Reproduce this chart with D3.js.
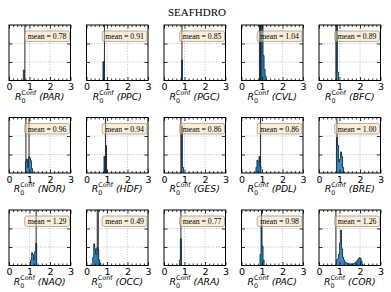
<!DOCTYPE html>
<html>
<head>
<meta charset="utf-8">
<script src="https://cdn.jsdelivr.net/npm/d3@7/dist/d3.min.js"></script>
<style>
  body { margin: 0; background: #fff; }
  text { font-family: "DejaVu Sans", sans-serif; }
</style>
</head>
<body>
<svg id="chart" width="391" height="292"></svg>
<script>
const title = 'SEAFHDRO';
const regions = ['PAR', 'PPC', 'PGC', 'CVL', 'BFC', 'NOR', 'HDF', 'GES', 'PDL', 'BRE', 'NAQ', 'OCC', 'ARA', 'PAC', 'COR'];
const means = ['0.78', '0.91', '0.85', '1.04', '0.89', '0.96', '0.94', '0.86', '0.86', '1.00', '1.29', '0.49', '0.77', '0.98', '1.26'];
const xTicks = [0, 1, 2, 3];
const yTicks = [1 / 3, 2 / 3];
const binW = 0.05;

// blue histogram per region: [bin start, height as share of the y range]
const blueBins = [
  [[0.70, 0.19]],
  [[0.80, 0.34]],
  [[0.85, 0.37]],
  [[0.95, 1.2], [1.00, 1.2], [1.05, 0.45], [1.10, 0.2], [1.15, 0.08]],
  [[0.85, 1.2], [0.90, 0.15]],
  [[0.80, 0.2], [0.85, 0.25], [0.90, 0.1], [0.95, 0.29], [1.00, 0.27], [1.05, 0.22], [1.10, 0.08]],
  [[0.85, 0.3]],
  [[0.85, 0.85], [0.90, 0.1]],
  [[0.70, 0.1], [0.75, 0.23], [0.80, 0.2], [0.85, 0.3], [0.90, 0.12]],
  [[0.85, 0.64], [0.90, 0.5], [0.95, 0.2], [1.00, 0.25], [1.05, 0.38], [1.10, 0.3], [1.15, 0.1]],
  [[1.05, 0.1], [1.10, 0.23], [1.15, 0.2], [1.20, 0.1], [1.25, 0.25], [1.30, 0.4]],
  [[0.30, 0.15], [0.35, 0.39], [0.40, 0.3], [0.45, 0.2], [0.50, 0.32], [0.55, 0.28], [0.60, 0.1], [0.65, 0.04]],
  [[0.75, 0.1], [0.80, 0.48]],
  [[0.90, 0.2], [0.95, 0.73], [1.00, 0.35], [1.05, 0.1]],
  [[0.85, 0.1], [0.90, 0.12], [0.95, 0.2], [1.00, 0.4], [1.05, 0.64], [1.10, 0.3], [1.15, 0.15], [1.20, 0.1],
   [1.25, 0.06], [1.30, 0.05], [1.35, 0.04], [1.40, 0.04], [1.45, 0.03], [1.50, 0.03], [1.55, 0.03],
   [1.60, 0.03], [1.65, 0.03], [1.70, 0.04], [1.75, 0.05], [1.80, 0.07], [1.85, 0.09], [1.90, 0.12],
   [1.95, 0.14], [2.00, 0.13], [2.05, 0.08], [2.10, 0.02]]
];

// dark narrow histogram drawn behind the blue one
const darkBins = [
  [[0.75, 1.2]],
  [[0.85, 1.2]],
  [[0.85, 1.2]],
  [[0.85, 1.2], [0.90, 1.2]],
  [[0.80, 1.2]],
  [[0.80, 1.2], [0.95, 1.2]],
  [[0.90, 1.2], [0.95, 0.5]],
  [[0.80, 1.2]],
  [[0.90, 1.2]],
  [[0.85, 1.2]],
  [[1.30, 1.2]],
  [[0.50, 1.2], [0.55, 1.2]],
  [[0.80, 1.2]],
  [[0.95, 1.2]],
  [[0.80, 1.2]]
];

const left0 = 9, colStep = 77.5, top0 = 25, rowStep = 92.5;
const pw = 61.5, ph = 55.5;

const svg = d3.select('#chart');
svg.append('rect').attr('width', 391).attr('height', 292).attr('fill', '#fff');

svg.append('text')
  .attr('x', 197).attr('y', 16)
  .attr('text-anchor', 'middle')
  .style('font-family', '"Liberation Serif", serif')
  .style('font-size', '11px')
  .text(title);

const x = d3.scaleLinear().domain([0, 3]).range([0, pw]);
const y = d3.scaleLinear().domain([0, 1]).range([ph, 0]);
const minorTicks = d3.range(0, 3.01, 0.2).filter(v => Math.abs(v - Math.round(v)) > 0.01);

// step outline around a run of bins
function stepPoints(bins) {
  const pts = [[bins[0][0], 0]];
  bins.forEach(b => { pts.push([b[0], b[1]]); pts.push([b[0] + binW, b[1]]); });
  pts.push([bins[bins.length - 1][0] + binW, 0]);
  return pts;
}
const line = d3.line().x(d => x(d[0])).y(d => y(d[1]));

regions.forEach((name, i) => {
  const col = i % 5, row = Math.floor(i / 5);
  const g = svg.append('g')
    .attr('transform', `translate(${left0 + col * colStep},${top0 + row * rowStep})`);

  g.append('clipPath').attr('id', 'clip' + i)
    .append('rect').attr('width', pw).attr('height', ph);

  // dotted grid
  g.selectAll('.gx').data([1, 2]).enter().append('line')
    .attr('x1', d => x(d)).attr('x2', d => x(d))
    .attr('y1', 0).attr('y2', ph)
    .attr('stroke', '#b0b0b0').attr('stroke-width', 0.8).attr('stroke-dasharray', '1,1.6');
  g.selectAll('.gy').data(yTicks).enter().append('line')
    .attr('x1', 0).attr('x2', pw)
    .attr('y1', d => y(d)).attr('y2', d => y(d))
    .attr('stroke', '#b0b0b0').attr('stroke-width', 0.8).attr('stroke-dasharray', '1,1.6');

  const plot = g.append('g').attr('clip-path', `url(#clip${i})`);
  plot.selectAll('.dark').data(darkBins[i]).enter().append('rect')
    .attr('x', d => x(d[0])).attr('width', x(binW))
    .attr('y', d => y(d[1])).attr('height', d => ph - y(d[1]))
    .attr('fill', '#2e2e2e');
  plot.selectAll('.blue').data(blueBins[i]).enter().append('rect')
    .attr('x', d => x(d[0])).attr('width', x(binW) + 0.2)
    .attr('y', d => y(d[1])).attr('height', d => ph - y(d[1]))
    .attr('fill', '#1f77b4');
  plot.append('path')
    .attr('d', line(stepPoints(blueBins[i])))
    .attr('fill', 'none').attr('stroke', '#000').attr('stroke-width', 0.6);

  // ticks, all pointing inward
  const axB = g.append('g').attr('transform', `translate(0,${ph})`)
    .call(d3.axisBottom(x).tickValues(xTicks).tickSizeInner(-3.5).tickSizeOuter(0).tickPadding(3).tickFormat(d3.format('d')));
  g.append('g').attr('transform', `translate(0,${ph})`)
    .call(d3.axisBottom(x).tickValues(minorTicks).tickSizeInner(-2).tickSizeOuter(0).tickFormat(''));
  g.append('g')
    .call(d3.axisTop(x).tickValues(xTicks).tickSizeInner(-3.5).tickSizeOuter(0).tickFormat(''));
  g.append('g')
    .call(d3.axisTop(x).tickValues(minorTicks).tickSizeInner(-2).tickSizeOuter(0).tickFormat(''));
  g.append('g')
    .call(d3.axisLeft(y).tickValues(yTicks).tickSizeInner(-3.5).tickSizeOuter(0).tickFormat(''));
  g.append('g').attr('transform', `translate(${pw},0)`)
    .call(d3.axisRight(y).tickValues(yTicks).tickSizeInner(-3.5).tickSizeOuter(0).tickFormat(''));
  g.selectAll('.domain').remove();
  g.selectAll('.tick line').attr('stroke', '#000').attr('stroke-width', 0.8);
  axB.selectAll('text').style('font-size', '9.5px').attr('fill', '#000');

  g.append('rect').attr('width', pw).attr('height', ph)
    .attr('fill', 'none').attr('stroke', '#000').attr('stroke-width', 1);

  // mean box
  const box = g.append('g');
  const t = box.append('text')
    .attr('x', pw - 4).attr('y', 14)
    .attr('text-anchor', 'end')
    .style('font-family', '"Liberation Serif", serif')
    .style('font-size', '7.8px')
    .text('mean = ' + means[i]);
  const tw = t.node().getComputedTextLength();
  box.insert('rect', 'text')
    .attr('x', pw - 4 - tw - 3).attr('y', 6)
    .attr('width', tw + 6).attr('height', 10.5)
    .attr('rx', 2)
    .attr('fill', 'wheat').attr('fill-opacity', 0.5)
    .attr('stroke', '#8c8273').attr('stroke-width', 0.6);

  // x label: R_0^Conf (NAME)
  const lab = g.append('text')
    .attr('x', pw / 2).attr('y', ph + 19)
    .attr('text-anchor', 'middle')
    .style('font-size', '9.3px');
  lab.append('tspan').style('font-style', 'italic').text('R');
  lab.append('tspan').attr('dy', 3.1).style('font-size', '6.4px').text('0');
  lab.append('tspan').attr('dx', -4.1).attr('dy', -7.7).style('font-size', '6.4px').text('Conf');
  lab.append('tspan').attr('dy', 4.6).style('font-style', 'italic').text('\u00a0(' + name + ')');
});
</script>
</body>
</html>
